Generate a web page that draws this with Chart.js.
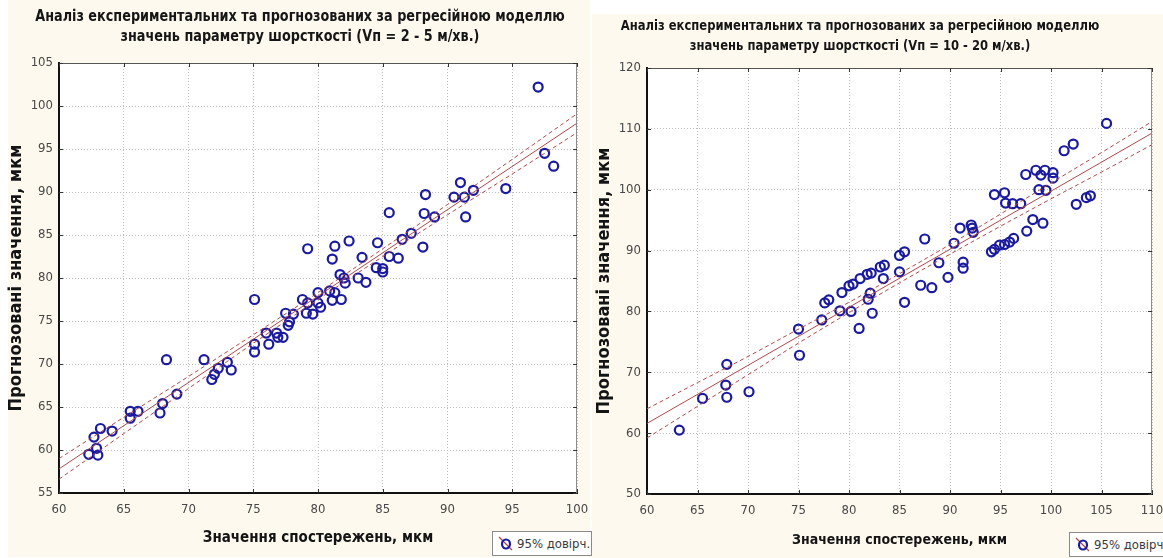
<!DOCTYPE html>
<html>
<head>
<meta charset="utf-8">
<script src="https://cdn.jsdelivr.net/npm/chart.js@4.4.1/dist/chart.umd.min.js"></script>
<style>
  html, body { margin: 0; padding: 0; background: #ffffff; }
  #stage { position: relative; width: 1163px; height: 558px; overflow: hidden; background: #ffffff; }
  .panel { position: absolute; background: #fdf9ee; }
  canvas { position: absolute; top: 0; }
  .ttl {
    position: absolute; text-align: center; white-space: nowrap;
    font-family: "DejaVu Sans Condensed", "Liberation Sans", sans-serif;
    font-weight: bold; color: #161616; transform-origin: 50% 0;
  }
  .legend {
    position: absolute; box-sizing: border-box; background: #ffffff;
    border: 1px solid #8a8a8a; height: 25px;
    font-family: "DejaVu Sans Condensed", "Liberation Sans", sans-serif;
    font-size: 13px; color: #3a3a3a; line-height: 23px; white-space: nowrap;
  }
  .legend svg { position: absolute; left: 4px; top: 3px; }
  .legend span { position: absolute; left: 24px; top: 0; }
</style>
</head>
<body>
<div id="stage">
  <div class="panel" style="left:8px; top:0; width:582px; height:557px;"></div>
  <div class="panel" style="left:592px; top:14px; width:571px; height:544px;"></div>
  <canvas id="chartLow" width="590" height="558" style="left:0;"></canvas>
  <canvas id="chartHigh" width="573" height="558" style="left:590px;"></canvas>

  <div class="ttl" style="left:0; width:600px; top:6px; font-size:15px; line-height:20px; transform:scaleX(0.95);">
    Аналіз експериментальних та прогнозованих за регресійною моделлю<br>значень параметру шорсткості (Vп = 2 - 5 м/хв.)
  </div>
  <div class="ttl" style="left:560px; width:600px; top:15px; font-size:14px; line-height:20px; transform:scaleX(0.92);">
    Аналіз експериментальних та прогнозованих за регресійною моделлю<br>значень параметру шорсткості (Vп = 10 - 20 м/хв.)
  </div>

  <div class="legend" style="left:492px; top:531px; width:100px;">
    <svg width="20" height="18" viewBox="0 0 20 18">
      <line x1="2" y1="2" x2="15" y2="15" stroke="#b04848" stroke-width="1.2"/>
      <ellipse cx="9" cy="9" rx="4" ry="4.5" fill="none" stroke="#1a1aa0" stroke-width="2.2"/>
    </svg>
    <span>95% довірч.</span>
  </div>
  <div class="legend" style="left:1069px; top:532px; width:96px;">
    <svg width="20" height="18" viewBox="0 0 20 18">
      <line x1="2" y1="2" x2="15" y2="15" stroke="#b04848" stroke-width="1.2"/>
      <ellipse cx="9" cy="9" rx="4" ry="4.5" fill="none" stroke="#1a1aa0" stroke-width="2.2"/>
    </svg>
    <span>95% довірч.</span>
  </div>
</div>

<script>
// ---- Vп = 2 - 5 м/хв: observed vs predicted roughness, мкм ----
const obsLow = [62.3, 62.9, 63.0, 62.7, 63.2, 64.1, 65.5, 66.1, 65.5, 67.8, 68.0, 69.1, 68.3, 71.2, 71.8, 72.0, 72.3, 73.0, 73.3,
  75.1, 75.1, 75.1, 76.0, 76.2, 76.8, 76.9, 77.3, 77.5, 77.7, 77.8, 78.1, 78.8, 79.1, 79.6, 79.2, 80.0, 80.2, 80.0, 80.9, 81.3,
  81.1, 81.8, 79.2, 81.3, 81.1, 82.4, 81.7, 82.0, 82.1, 83.1, 83.7, 83.4, 84.6, 84.5, 85.0, 85.0, 85.5, 86.2, 85.5, 86.5, 87.2,
  88.1, 88.3, 88.2, 89.0, 90.5, 91.0, 91.3, 91.4, 92.0, 94.5, 97.0, 97.5, 98.2];
const predLow = [59.5, 60.2, 59.4, 61.5, 62.5, 62.2, 64.5, 64.5, 63.7, 64.3, 65.4, 66.5, 70.5, 70.5, 68.2, 68.8, 69.5, 70.2, 69.3,
  77.5, 72.3, 71.4, 73.6, 72.3, 73.6, 73.1, 73.1, 75.9, 74.5, 74.9, 75.8, 77.5, 75.9, 75.8, 77.1, 77.1, 76.6, 78.3, 78.5, 78.3,
  77.4, 77.5, 83.4, 83.7, 82.2, 84.3, 80.4, 80.0, 79.4, 80.0, 79.5, 82.4, 84.1, 81.2, 81.1, 80.7, 82.5, 82.3, 87.6, 84.5, 85.2,
  83.6, 89.7, 87.5, 87.1, 89.4, 91.1, 89.4, 87.1, 90.2, 90.4, 102.2, 94.5, 93.0];
// regression line and its 95% confidence limits
const fitXLow = [60, 100];
const fitYLow = [57.8, 98.0];
const bandXLow = [60, 65, 70, 75, 80, 85, 90, 95, 100];
const bandUpLow = [59.0, 63.8, 68.55, 73.4, 78.3, 83.4, 88.55, 93.8, 99.1];
const bandDnLow = [56.6, 61.9, 67.15, 72.4, 77.5, 82.5, 87.35, 92.1, 96.9];
const xTicksLow = [60, 100, 5];
const yTicksLow = [55, 105, 5];

// ---- Vп = 10 - 20 м/хв ----
const obsHigh = [63.2, 65.5, 67.9, 67.8, 67.9, 70.1, 75.0, 75.1, 77.3, 77.6, 78.0, 79.1, 80.2, 81.0, 81.9, 82.3, 82.1, 79.3, 80.0,
  80.4, 81.1, 81.8, 82.2, 83.1, 83.5, 83.4, 85.0, 85.5, 85.0, 85.5, 87.1, 88.2, 87.5, 88.9, 89.8, 90.4, 91.0, 91.3, 91.3, 92.1,
  92.2, 92.3, 94.1, 94.4, 94.9, 95.4, 95.9, 96.3, 97.6, 94.4, 95.4, 95.5, 96.2, 97.0, 97.5, 98.5, 98.2, 99.2, 98.8, 99.5, 99.4,
  99.0, 100.2, 100.2, 101.3, 102.2, 102.5, 103.5, 103.9, 105.5];
const predHigh = [60.5, 65.7, 71.3, 67.9, 65.9, 66.8, 77.1, 72.8, 78.6, 81.4, 81.9, 80.1, 80.0, 77.2, 82.0, 79.7, 83.0, 83.1, 84.2,
  84.5, 85.4, 86.1, 86.3, 87.3, 87.6, 85.4, 89.2, 89.8, 86.5, 81.5, 84.3, 83.9, 91.9, 88.0, 85.6, 91.2, 93.7, 88.1, 87.1, 94.2,
  93.7, 93.0, 89.8, 90.2, 90.9, 91.0, 91.4, 92.0, 93.2, 99.2, 99.5, 97.8, 97.7, 97.7, 102.5, 103.2, 95.1, 94.5, 100.0, 99.9, 103.2,
  102.4, 102.8, 101.9, 106.4, 107.5, 97.6, 98.7, 99.0, 110.9];
const fitXHigh = [60, 110];
const fitYHigh = [61.6, 109.3];
const bandXHigh = [60, 65, 70, 75, 80, 85, 90, 95, 100, 105, 110];
const bandUpHigh = [64.0, 68.3, 72.6, 77.1, 81.5, 86.2, 91.0, 96.0, 101.1, 106.1, 111.2];
const bandDnHigh = [59.2, 64.4, 69.6, 74.8, 79.8, 84.7, 89.4, 94.0, 98.5, 102.9, 107.4];
const xTicksHigh = [60, 110, 5];
const yTicksHigh = [50, 120, 10];

const xTitle = 'Значення спостережень, мкм';
const yTitle = 'Прогнозовані значення, мкм';

const FONT = '"DejaVu Sans Condensed", "Liberation Sans", sans-serif';
const POINT_COLOR = '#1a1aa0';
const LINE_COLOR = '#b04848';

const pairs = (xs, ys) => xs.map((x, i) => ({ x: x, y: ys[i] }));

// white plot field, frame and inward tick marks
const plotFrame = {
  id: 'plotFrame',
  beforeDraw(chart) {
    const { ctx, chartArea: a } = chart;
    ctx.save();
    ctx.fillStyle = '#ffffff';
    ctx.fillRect(a.left, a.top, a.right - a.left, a.bottom - a.top);
    ctx.restore();
  },
  afterDraw(chart) {
    const { ctx, chartArea: a, scales } = chart;
    ctx.save();
    ctx.lineWidth = 1;
    ctx.strokeStyle = '#555555';
    ctx.beginPath();
    ctx.moveTo(a.left, a.top + 0.5); ctx.lineTo(a.right, a.top + 0.5);
    ctx.stroke();
    ctx.strokeStyle = '#8c8c8c';
    ctx.beginPath();
    ctx.moveTo(a.right - 0.5, a.top); ctx.lineTo(a.right - 0.5, a.bottom);
    ctx.stroke();
    ctx.strokeStyle = '#333333';
    const L = 4;
    scales.x.ticks.forEach(t => {
      const px = Math.round(scales.x.getPixelForValue(t.value)) + 0.5;
      ctx.beginPath();
      ctx.moveTo(px, a.bottom); ctx.lineTo(px, a.bottom - L);
      ctx.moveTo(px, a.top); ctx.lineTo(px, a.top + L);
      ctx.stroke();
    });
    scales.y.ticks.forEach(t => {
      const py = Math.round(scales.y.getPixelForValue(t.value)) + 0.5;
      ctx.beginPath();
      ctx.moveTo(a.left, py); ctx.lineTo(a.left + L, py);
      ctx.moveTo(a.right, py); ctx.lineTo(a.right - L, py);
      ctx.stroke();
    });
    ctx.restore();
  }
};

function buildChart(id, d) {
  const lineSet = (xs, ys, dashed) => ({
    data: pairs(xs, ys),
    showLine: true,
    pointRadius: 0,
    borderColor: LINE_COLOR,
    borderWidth: 1,
    borderDash: dashed ? [4, 3] : [],
    tension: dashed ? 0.35 : 0,
    fill: false,
    order: 0
  });
  return new Chart(document.getElementById(id), {
    type: 'scatter',
    data: {
      datasets: [
        lineSet(d.fitX, d.fitY, false),
        lineSet(d.bandX, d.bandUp, true),
        lineSet(d.bandX, d.bandDn, true),
        {
          data: pairs(d.obs, d.pred),
          pointStyle: 'circle',
          pointRadius: 4.5,
          pointBorderWidth: 2.2,
          pointBorderColor: POINT_COLOR,
          pointBackgroundColor: 'rgba(0,0,0,0)',
          order: 1
        }
      ]
    },
    options: {
      responsive: false,
      devicePixelRatio: 1,
      animation: false,
      events: [],
      layout: { padding: { left: 0, top: d.area.top, right: d.area.padRight, bottom: 0 } },
      plugins: { legend: { display: false }, tooltip: { enabled: false }, title: { display: false } },
      scales: {
        x: {
          type: 'linear', position: 'bottom',
          min: d.xTicks[0], max: d.xTicks[1],
          afterFit: s => { s.height = d.area.xHeight; s.paddingLeft = 0; s.paddingRight = 0; },
          ticks: { stepSize: d.xTicks[2], padding: 9, color: '#474747', font: { family: FONT, size: 13 } },
          grid: { color: '#bcbcbc', lineWidth: 1, drawTicks: false },
          border: { color: '#111111', width: 2, dash: [1, 2] },
          title: {
            display: true, text: xTitle, color: '#141414',
            font: { family: FONT, size: d.area.xTitleSize, weight: 'bold', lineHeight: 1.2 },
            padding: { top: 0, bottom: d.area.xTitlePad }
          }
        },
        y: {
          type: 'linear', position: 'left',
          min: d.yTicks[0], max: d.yTicks[1],
          afterFit: s => { s.width = d.area.yWidth; s.paddingTop = 0; s.paddingBottom = 0; },
          ticks: { stepSize: d.yTicks[2], padding: 6, color: '#474747', font: { family: FONT, size: 13 } },
          grid: { color: '#bcbcbc', lineWidth: 1, drawTicks: false },
          border: { color: '#111111', width: 2, dash: [1, 2] },
          title: {
            display: true, text: yTitle, color: '#141414',
            font: { family: FONT, size: 18, weight: 'bold', lineHeight: 1.2 },
            padding: { top: d.area.yTitlePad, bottom: 0 }
          }
        }
      }
    },
    plugins: [plotFrame]
  });
}

buildChart('chartLow', {
  obs: obsLow, pred: predLow,
  fitX: fitXLow, fitY: fitYLow,
  bandX: bandXLow, bandUp: bandUpLow, bandDn: bandDnLow,
  xTicks: xTicksLow, yTicks: yTicksLow,
  area: { top: 63, padRight: 13, xHeight: 65, yWidth: 59, xTitlePad: 11, yTitlePad: 6, xTitleSize: 15 }
});

buildChart('chartHigh', {
  obs: obsHigh, pred: predHigh,
  fitX: fitXHigh, fitY: fitYHigh,
  bandX: bandXHigh, bandUp: bandUpHigh, bandDn: bandDnHigh,
  xTicks: xTicksHigh, yTicks: yTicksHigh,
  area: { top: 68, padRight: 11, xHeight: 64, yWidth: 57, xTitlePad: 9, yTitlePad: 4, xTitleSize: 14 }
});
</script>
</body>
</html>
